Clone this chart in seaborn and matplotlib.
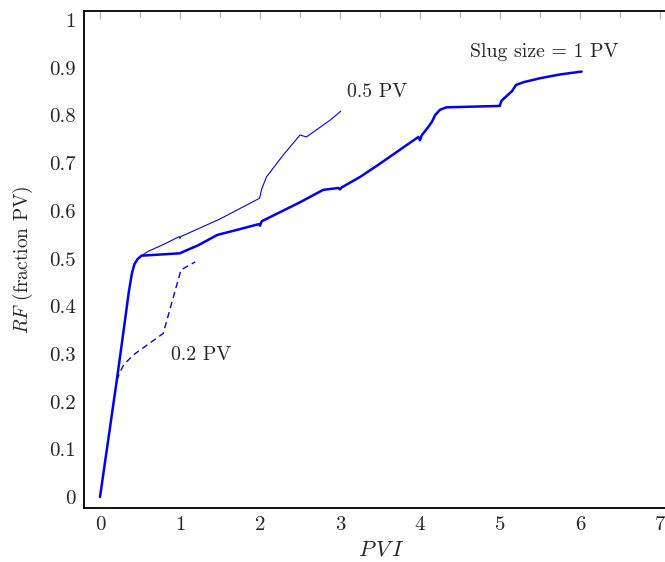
import matplotlib
matplotlib.use("Agg")
import matplotlib.pyplot as plt
import seaborn as sns
import pandas as pd
from matplotlib.ticker import MultipleLocator

# Slug size = 1 PV
slug1_pvi = [0, 0.21, 0.3, 0.36, 0.4, 0.43, 0.47, 0.52, 1.0, 1.05, 1.23, 1.46, 1.5, 1.71,
             1.98, 2.0, 2.02, 2.5, 2.79, 2.98, 3.0, 3.02, 3.25, 3.5, 3.98, 4.0, 4.02,
             4.1, 4.15, 4.19, 4.25, 4.33, 5.0, 5.0, 5.02, 5.15, 5.2, 5.3, 5.5, 5.75, 6.02]
slug1_rf = [0, 0.245, 0.355, 0.43, 0.47, 0.488, 0.499, 0.506, 0.511, 0.515, 0.528, 0.549, 0.551, 0.560,
            0.572, 0.569, 0.578, 0.618, 0.644, 0.648, 0.645, 0.649, 0.671, 0.699, 0.755, 0.748, 0.758,
            0.775, 0.787, 0.801, 0.812, 0.817, 0.820, 0.822, 0.831, 0.851, 0.864, 0.870, 0.878, 0.886, 0.892]

# Slug size = 0.5 PV
slug05_pvi = [0.52, 0.6, 0.8, 0.99, 1.0, 1.01, 1.5, 1.99, 2.0, 2.02, 2.08, 2.29, 2.5, 2.58, 2.875, 3.01]
slug05_rf = [0.506, 0.515, 0.530, 0.546, 0.542, 0.546, 0.583, 0.626, 0.630, 0.645, 0.671, 0.717,
             0.759, 0.755, 0.790, 0.809]

# Slug size = 0.2 PV
slug02_pvi = [0.21, 0.25, 0.3, 0.417, 0.6, 0.79, 1.0, 1.01, 1.19]
slug02_rf = [0.245, 0.262, 0.278, 0.298, 0.320, 0.343, 0.469, 0.476, 0.493]

sns.set_style("white")
plt.rcParams["font.family"] = ["cmr10", "DejaVu Serif"]
plt.rcParams["mathtext.fontset"] = "cm"
plt.rcParams["axes.formatter.use_mathtext"] = True

fig = plt.figure(figsize=(6.65, 5.62), dpi=100)
ax = fig.add_axes([84/665, 54/562, 592/665, 497/562])

blue = "#0000ff"
sns.lineplot(x=slug1_pvi, y=slug1_rf, sort=False, ax=ax, color=blue, lw=1.8, estimator=None)
sns.lineplot(x=slug05_pvi, y=slug05_rf, sort=False, ax=ax, color=blue, lw=0.8, estimator=None)
sns.lineplot(x=slug02_pvi, y=slug02_rf, sort=False, ax=ax, color=blue, lw=1.0, estimator=None,
             linestyle=(0, (4.5, 3)))

ax.set_xlim(-0.2, 7.2)
ax.set_ylim(-0.023, 1.019)
ax.xaxis.set_minor_locator(MultipleLocator(0.5))
ax.yaxis.set_minor_locator(MultipleLocator(0.05))
ax.set_xticks(range(0, 8))
ax.set_xticklabels([str(i) for i in range(0, 8)])
yt = [round(0.1 * i, 1) for i in range(11)]
ax.set_yticks(yt)
ax.set_yticklabels(["0", "0.1", "0.2", "0.3", "0.4", "0.5", "0.6", "0.7", "0.8", "0.9", "1"])
ax.tick_params(which="both", direction="in", top=True, right=True, color="#b0b0b0",
               labelsize=15, width=0.8)
ax.tick_params(which="major", length=6, pad=6)
ax.tick_params(which="minor", length=4)
for s in ax.spines.values():
    s.set_color("black")
    s.set_linewidth(1.3)

ax.set_xlabel(r"$P\,V\,I$", fontsize=16)
ax.xaxis.set_label_coords(0.503, -0.064)
ax.set_ylabel(r"$RF$ (fraction PV)", fontsize=14)
ax.yaxis.set_label_coords(-0.083, 0.50)

ax.text(5.55, 0.933, "Slug size = 1 PV", fontsize=14.3, ha="center", va="center")
ax.text(3.46, 0.849, "0.5 PV", fontsize=14.3, ha="center", va="center")
ax.text(1.26, 0.298, "0.2 PV", fontsize=14.3, ha="center", va="center")

fig.savefig("out.png", dpi=100)
